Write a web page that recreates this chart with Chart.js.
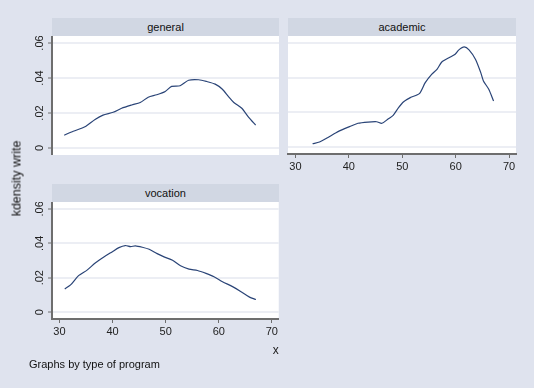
<!DOCTYPE html>
<html>
<head>
<meta charset="utf-8">
<title>kdensity write by prog</title>
<script src="https://cdn.jsdelivr.net/npm/chart.js"></script>
<style>
body{
    margin:0;
    width:534px;
    height:388px;
    overflow:hidden;
    background:#dfe3ee;
    font-family:"Liberation Sans", Arial, sans-serif;
}
.strip{
    position:absolute;
    height:18px;
    line-height:18px;
    background:#d1d7e3;
    text-align:center;
    font-size:11px;
    color:#111;
}
.panel{ position:absolute; }
.txt{ position:absolute; color:#111; white-space:nowrap; }
</style>
</head>
<body>

<div class="strip" style="left:52px; top:18px; width:227px;">general</div>
<div class="strip" style="left:288px; top:18px; width:228px;">academic</div>
<div class="strip" style="left:52px; top:184px; width:227px;">vocation</div>

<div class="panel" style="left:0px; top:36px; width:280px; height:119px;"><canvas id="cGeneral"></canvas></div>
<div class="panel" style="left:280px; top:36px; width:254px; height:140px;"><canvas id="cAcademic"></canvas></div>
<div class="panel" style="left:0px; top:202px; width:280px; height:160px;"><canvas id="cVocation"></canvas></div>

<div class="txt" style="left:-33px; top:171px; width:100px; height:15px; line-height:15px; font-size:12.5px; transform:rotate(-90deg); text-align:center;">kdensity write</div>
<div class="txt" style="left:29px; top:358px; font-size:11px;">Graphs by type of program</div>

<script>
// x ticks / y ticks
const xTicks = [30, 40, 50, 60, 70];
const yTicks = [0, 0.02, 0.04, 0.06];
const yTickLabels = ['0', '.02', '.04', '.06'];

// general
const generalX = [30.9, 32.6, 34.8, 36.7, 38.2, 40.1, 41.7, 43.6, 45.2, 46.7, 48.3, 49.9, 51.1, 52.7, 54.3, 56.2, 57.7, 59.3, 60.6, 61.8, 62.8, 64.3, 65.6, 66.9];
const generalY = [0.0073, 0.0096, 0.0121, 0.0163, 0.0188, 0.0204, 0.0227, 0.0246, 0.0260, 0.0290, 0.0304, 0.0323, 0.0352, 0.0356, 0.0387, 0.0390, 0.0380, 0.0365, 0.0337, 0.0294, 0.0260, 0.0227, 0.0175, 0.0131];

// academic
const academicX = [33.2, 34.5, 36.0, 37.6, 39.2, 40.4, 41.7, 43.6, 45.2, 46.2, 47.4, 48.3, 49.3, 50.2, 51.5, 53.2, 54.3, 55.5, 56.5, 57.4, 59.0, 59.9, 60.6, 61.6, 62.5, 63.7, 64.7, 65.2, 66.2, 67.1];
const academicY = [0.0019, 0.0029, 0.0054, 0.0083, 0.0106, 0.0121, 0.0137, 0.0144, 0.0146, 0.0137, 0.0163, 0.0183, 0.0227, 0.0260, 0.0285, 0.0308, 0.0371, 0.0419, 0.0448, 0.0490, 0.0519, 0.0535, 0.0560, 0.0577, 0.0560, 0.0506, 0.0429, 0.0381, 0.0333, 0.0265];

// vocation
const vocationX = [31.0, 32.1, 33.6, 35.2, 36.8, 38.7, 39.9, 41.2, 42.4, 43.4, 44.3, 45.6, 46.9, 48.4, 49.7, 51.3, 52.8, 54.4, 56.0, 57.6, 59.1, 60.7, 62.6, 64.2, 65.8, 67.0];
const vocationY = [0.0135, 0.0158, 0.0212, 0.0244, 0.0287, 0.0327, 0.0350, 0.0375, 0.0387, 0.0381, 0.0385, 0.0377, 0.0365, 0.0340, 0.0321, 0.0302, 0.0269, 0.0250, 0.0242, 0.0225, 0.0206, 0.0177, 0.0148, 0.0119, 0.0087, 0.0073];

const lineColor = '#2a4477';
const axisColor = '#6e6e6e';
const gridColor = '#eceef4';

// white plot region + rotated y labels (stata style)
const stataPlugin = {
    id: 'stataPlugin',
    beforeDraw(chart) {
        const a = chart.chartArea;
        const ctx = chart.ctx;
        ctx.save();
        ctx.fillStyle = '#ffffff';
        ctx.fillRect(a.left, a.top, a.right - a.left, a.bottom - a.top);
        ctx.restore();
    },
    afterDraw(chart, args, opts) {
        if (!opts.yLabels) return;
        const ctx = chart.ctx;
        const y = chart.scales.y;
        ctx.save();
        ctx.fillStyle = '#222';
        ctx.font = '11px "Liberation Sans", Arial, sans-serif';
        ctx.textAlign = 'center';
        ctx.textBaseline = 'middle';
        for (let i = 0; i < yTicks.length; i++) {
            const py = y.getPixelForValue(yTicks[i]);
            ctx.save();
            ctx.translate(chart.chartArea.left - 12, py);
            ctx.rotate(-Math.PI / 2);
            ctx.fillText(yTickLabels[i], 0, 0);
            ctx.restore();
        }
        ctx.restore();
    }
};

function makePoints(xs, ys) {
    var pts = [];
    for (var i = 0; i < xs.length; i++) {
        pts.push({x: xs[i], y: ys[i]});
    }
    return pts;
}

function makeChart(id, xs, ys, showX, showY, padding, xHeight, xTitle) {
    var config = {
        type: 'line',
        data: {
            datasets: [{
                data: makePoints(xs, ys),
                borderColor: lineColor,
                borderWidth: 1.2,
                pointRadius: 0,
                fill: false,
                tension: 0.25
            }]
        },
        options: {
            responsive: true,
            maintainAspectRatio: false,
            animation: false,
            layout: { padding: padding },
            plugins: {
                legend: { display: false },
                tooltip: { enabled: false },
                stataPlugin: { yLabels: showY }
            },
            scales: {
                x: {
                    type: 'linear',
                    min: 28.6,
                    max: 71.3,
                    display: showX,
                    afterBuildTicks: function(scale) {
                        scale.ticks = xTicks.map(function(v) { return {value: v}; });
                    },
                    afterFit: function(scale) {
                        if (showX) scale.height = xHeight;
                    },
                    border: { display: true, color: axisColor, width: 2 },
                    grid: { drawOnChartArea: false, drawTicks: true, tickLength: 4, tickColor: axisColor, tickWidth: 1 },
                    ticks: {
                        color: '#222',
                        font: { size: 11, family: '"Liberation Sans", Arial, sans-serif' },
                        padding: 2,
                        maxRotation: 0,
                        callback: function(v) { return v; }
                    },
                    title: {
                        display: !!xTitle,
                        text: xTitle || '',
                        align: 'end',
                        color: '#222',
                        font: { size: 12, family: '"Liberation Sans", Arial, sans-serif' },
                        padding: { top: 0, bottom: 4 }
                    }
                },
                y: {
                    type: 'linear',
                    min: -0.004,
                    max: 0.064,
                    afterBuildTicks: function(scale) {
                        scale.ticks = yTicks.map(function(v) { return {value: v}; });
                    },
                    afterFit: function(scale) {
                        scale.width = showY ? 52 : 0;
                    },
                    border: { display: showY, color: axisColor, width: 2 },
                    grid: {
                        color: gridColor,
                        lineWidth: 2,
                        drawTicks: showY,
                        tickLength: 4,
                        tickColor: axisColor,
                        tickWidth: 1
                    },
                    ticks: { display: false }
                }
            }
        },
        plugins: [stataPlugin]
    };
    return new Chart(document.getElementById(id), config);
}

makeChart('cGeneral', generalX, generalY, false, true, {left: 0, right: 1, top: 0, bottom: 0}, 0, null);
makeChart('cAcademic', academicX, academicY, true, false, {left: 8, right: 18, top: 0, bottom: 0}, 22, null);
makeChart('cVocation', vocationX, vocationY, true, true, {left: 0, right: 1, top: 0, bottom: 0}, 43, 'x');
</script>
</body>
</html>
